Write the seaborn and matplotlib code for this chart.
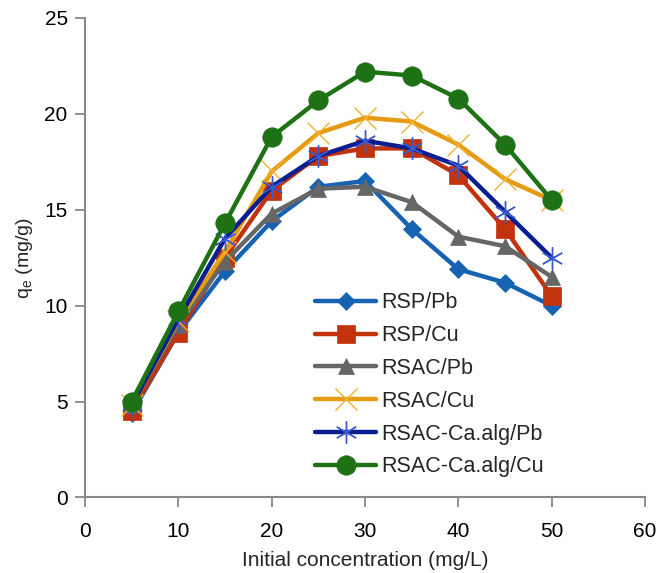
import matplotlib
matplotlib.use("Agg")
import matplotlib.pyplot as plt
import seaborn as sns
import pandas as pd

conc = [5, 10, 15, 20, 25, 30, 35, 40, 45, 50]

rsp_pb = [4.4, 8.6, 11.8, 14.4, 16.2, 16.5, 14.0, 11.9, 11.2, 10.0]
rsp_cu = [4.5, 8.6, 12.5, 16.0, 17.8, 18.2, 18.2, 16.8, 14.0, 10.5]
rsac_pb = [4.8, 9.0, 12.3, 14.8, 16.1, 16.2, 15.4, 13.6, 13.1, 11.5]
rsac_cu = [4.8, 9.2, 12.8, 17.0, 19.0, 19.8, 19.6, 18.4, 16.6, 15.5]
rsacca_pb = [4.8, 9.3, 13.5, 16.2, 17.8, 18.6, 18.2, 17.3, 14.9, 12.5]
rsacca_cu = [5.0, 9.7, 14.3, 18.8, 20.7, 22.2, 22.0, 20.8, 18.4, 15.5]

series_names = ["RSP/Pb", "RSP/Cu", "RSAC/Pb", "RSAC/Cu",
                "RSAC-Ca.alg/Pb", "RSAC-Ca.alg/Cu"]
series_values = [rsp_pb, rsp_cu, rsac_pb, rsac_cu, rsacca_pb, rsacca_cu]

x_ticks = [0, 10, 20, 30, 40, 50, 60]
y_ticks = [0, 5, 10, 15, 20, 25]

colors = ["#1763B3", "#C2320C", "#666666", "#E59C12", "#0A1F8F", "#1E7215"]
markers = ["D", "s", "^", "x", (6, 2, 0), "o"]
msizes = [9, 13, 12, 16, 16, 14]
medge = ["#1763B3", "#C2320C", "#666666", "#F0B030", "#3A5BD0", "#1E7215"]
mew = [0.5, 0.5, 0.5, 1.0, 1.0, 0.5]

sns.set_theme(style="white")
plt.rcParams["font.family"] = ["Liberation Sans", "DejaVu Sans"]
plt.rcParams["mathtext.fontset"] = "custom"
plt.rcParams["mathtext.rm"] = "Liberation Sans"

fig = plt.figure(figsize=(6.6, 5.73), dpi=100)
ax = fig.add_axes([0.1288, 0.1318, 0.8485, 0.8368])

df = pd.DataFrame({
    "conc": conc * len(series_names),
    "qe": [v for s in series_values for v in s],
    "series": [n for n in series_names for _ in conc],
})

for i, name in enumerate(series_names):
    sub = df[df["series"] == name]
    sns.lineplot(data=sub, x="conc", y="qe", ax=ax, color=colors[i],
                 marker=markers[i], markersize=msizes[i], linewidth=3.2,
                 markeredgecolor=medge[i], markerfacecolor=colors[i],
                 markeredgewidth=mew[i], label=name, zorder=2 + i)

ax.set_xlim(0, 60)
ax.set_ylim(0, 25)
ax.set_xticks(x_ticks)
ax.set_yticks(y_ticks)
ax.tick_params(axis="both", labelsize=15, colors="#888888",
               labelcolor="black", length=7, width=1.3, direction="out",
               bottom=True, left=True)
ax.tick_params(axis="x", pad=11)
ax.tick_params(axis="y", pad=5.5)
for side in ["top", "right"]:
    ax.spines[side].set_visible(False)
for side in ["left", "bottom"]:
    ax.spines[side].set_color("#888888")
    ax.spines[side].set_linewidth(1.5)

ax.set_xlabel("Initial concentration (mg/L)", fontsize=15, labelpad=7)
ax.set_ylabel(r"q$_\mathregular{e}$ (mg/g)", fontsize=14, labelpad=7)

leg = ax.legend(loc="upper left", bbox_to_anchor=(0.395, 0.446), frameon=False,
                fontsize=15.5, handlelength=2.85, handletextpad=0.23,
                labelspacing=0.55, borderaxespad=0)

fig.savefig("out.png", dpi=100)
